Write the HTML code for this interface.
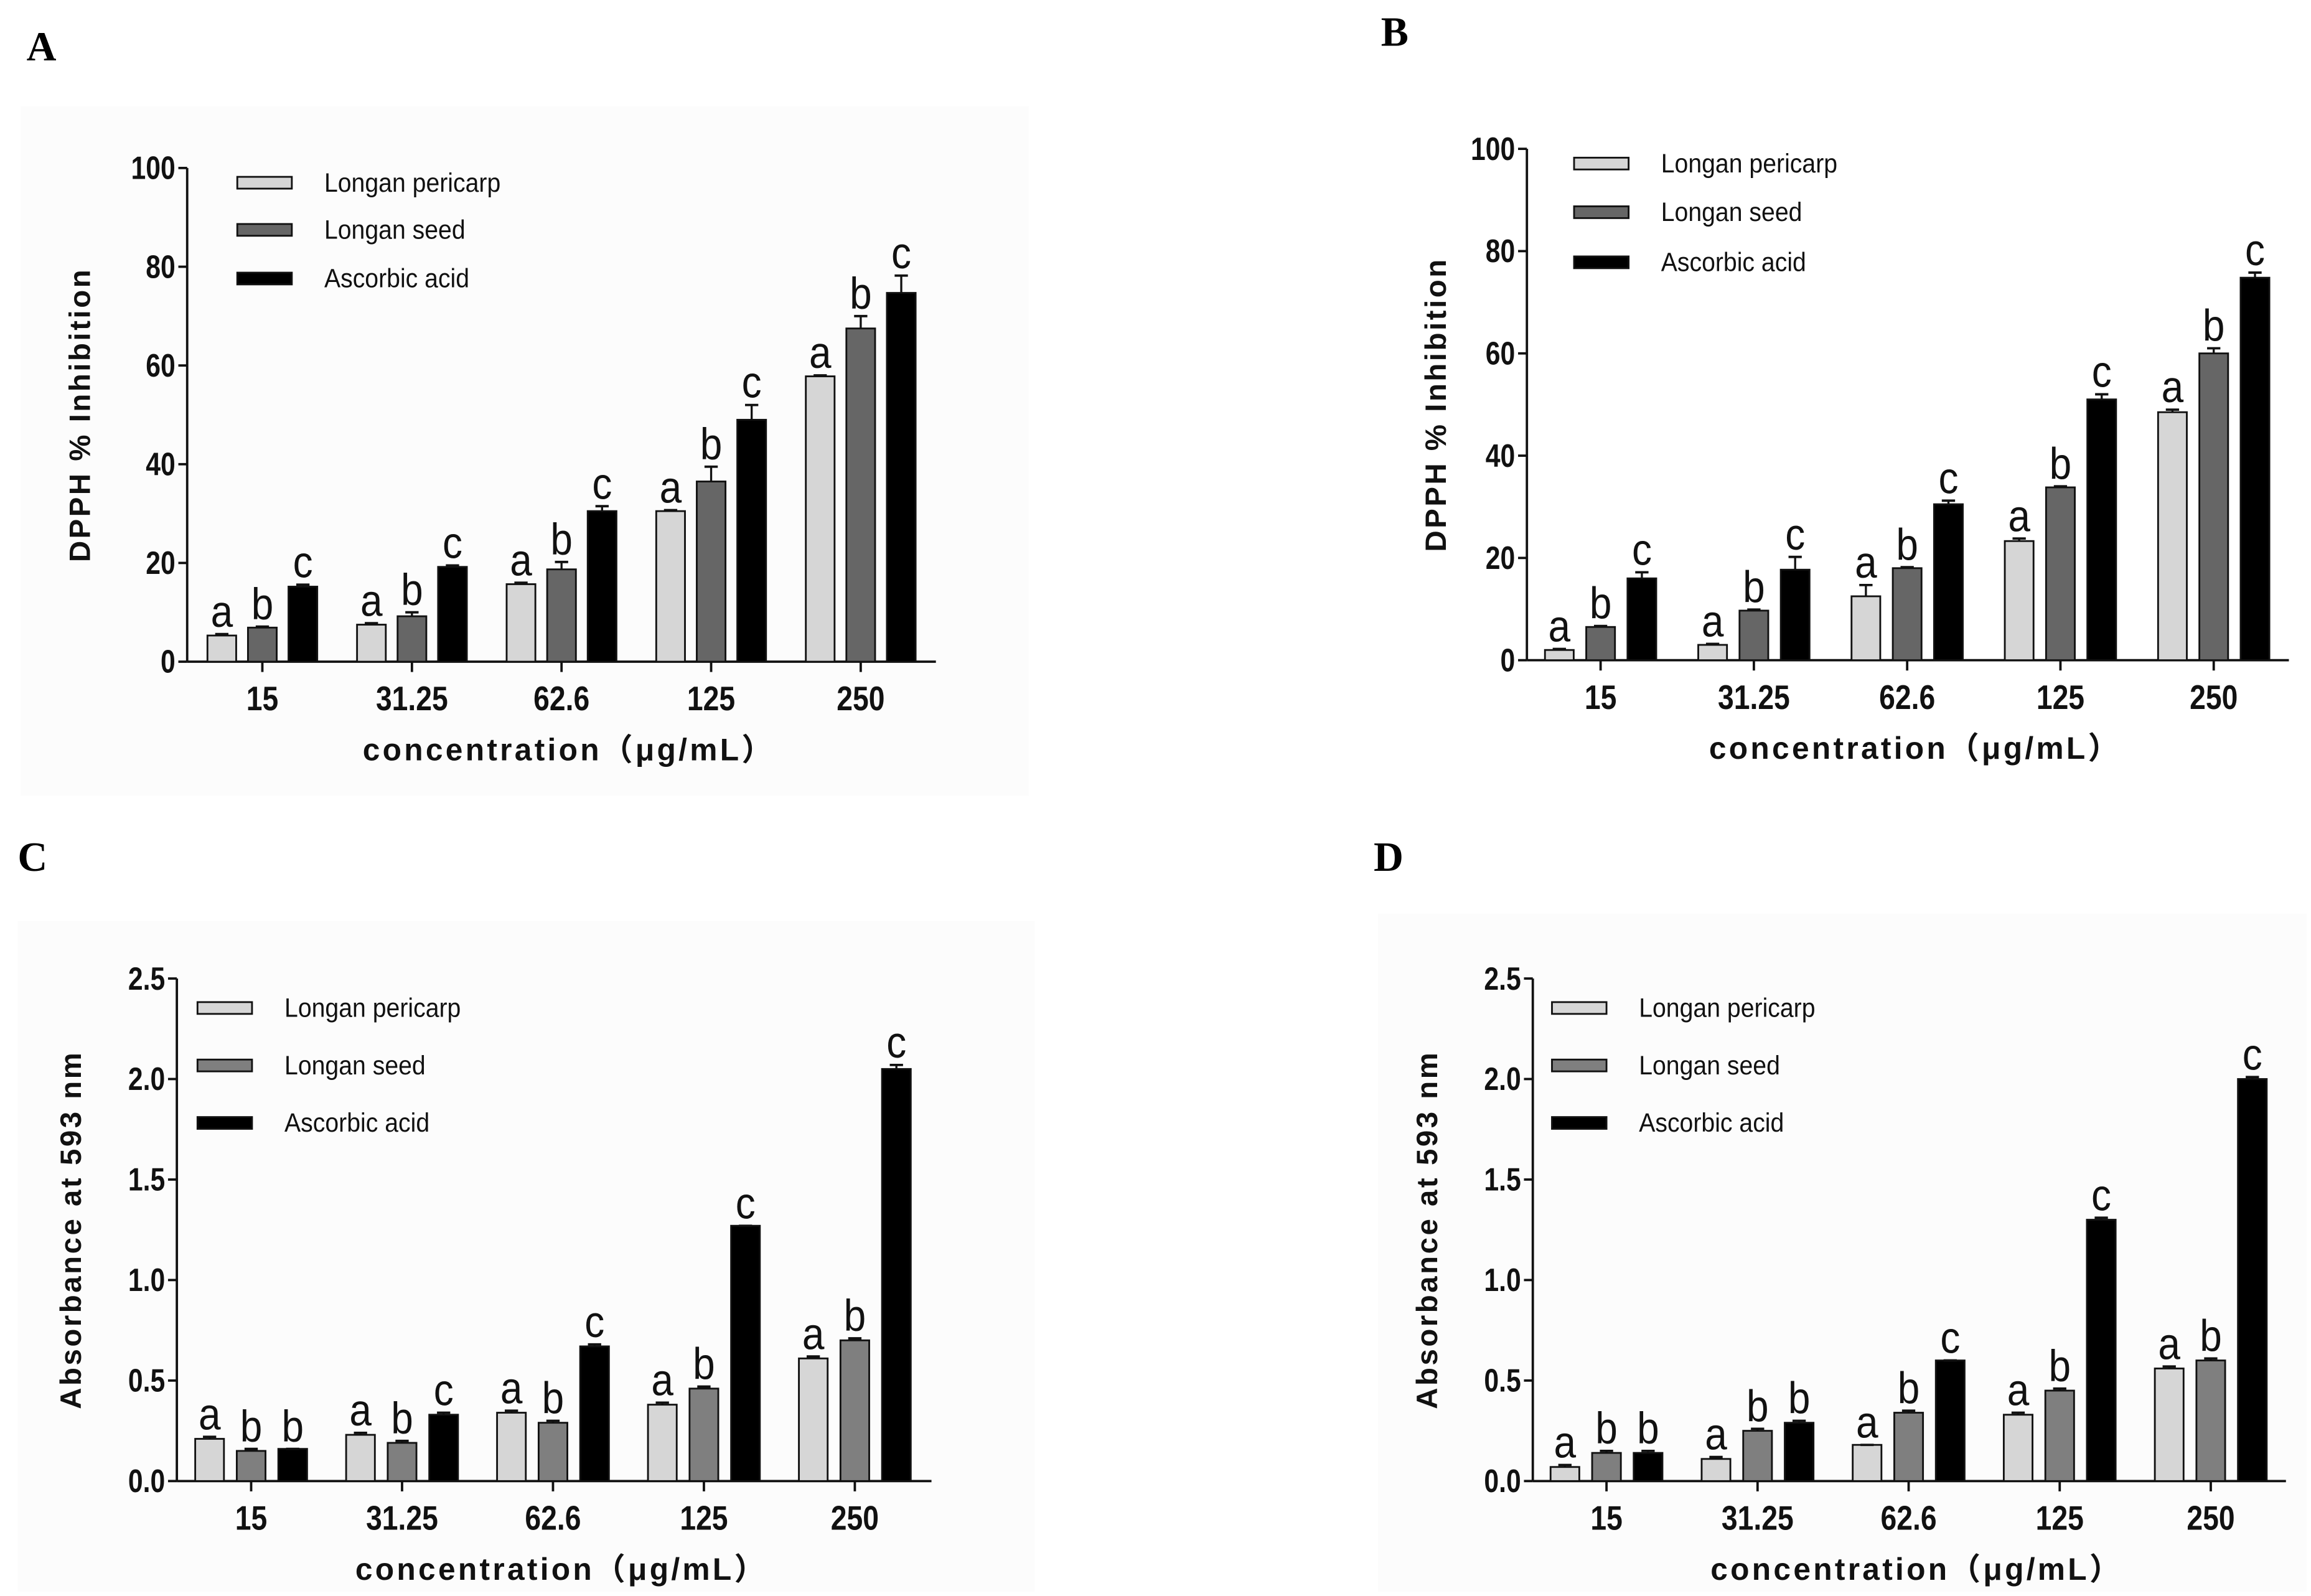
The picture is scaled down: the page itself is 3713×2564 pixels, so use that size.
<!DOCTYPE html>
<html><head><meta charset="utf-8"><style>
html,body{margin:0;padding:0;background:#fff;}
svg{display:block;}
</style></head><body>
<svg id="fig" width="3713" height="2564" viewBox="0 0 1568 1083" preserveAspectRatio="none" xmlns="http://www.w3.org/2000/svg" font-family="Liberation Sans, Arial, sans-serif">
<rect x="0" y="0" width="1568" height="1083" fill="#fff"/>
<rect x="14" y="72" width="684" height="468" fill="#fcfcfc"/>
<rect x="12" y="625" width="690" height="455" fill="#fcfcfc"/>
<rect x="935" y="620" width="630" height="460" fill="#fcfcfc"/>
<g id="root"></g>
</svg>
<script>
const categories = ["15","31.25","62.6","125","250"];
const seriesNames = ["Longan pericarp","Longan seed","Ascorbic acid"];
const dpphTicks = [0,20,40,60,80,100];
const fraTicks = [0.0,0.5,1.0,1.5,2.0,2.5];
const fraTickLabels = ["0.0","0.5","1.0","1.5","2.0","2.5"];

const aPericarp = [5.3,7.5,15.7,30.5,57.8];
const aSeed = [6.9,9.2,18.7,36.5,67.5];
const aAscorbic = [15.2,19.2,30.5,49.0,74.7];
const aPericarpErr = [0.3,0.3,0.3,0.2,0.2];
const aSeedErr = [0.2,0.8,1.5,3.0,2.5];
const aAscorbicErr = [0.4,0.3,1.0,3.0,3.5];
const aLetters = [["a","b","c"],["a","b","c"],["a","b","c"],["a","b","c"],["a","b","c"]];

const bPericarp = [2.0,3.0,12.5,23.3,48.5];
const bSeed = [6.5,9.7,18.0,33.8,60.0];
const bAscorbic = [16.0,17.7,30.5,51.0,74.8];
const bPericarpErr = [0.2,0.2,2.2,0.5,0.5];
const bSeedErr = [0.2,0.2,0.2,0.2,1.0];
const bAscorbicErr = [1.2,2.5,0.7,1.0,1.0];
const bLetters = [["a","b","c"],["a","b","c"],["a","b","c"],["a","b","c"],["a","b","c"]];

const cPericarp = [0.21,0.23,0.34,0.38,0.61];
const cSeed = [0.15,0.19,0.29,0.46,0.70];
const cAscorbic = [0.16,0.33,0.67,1.27,2.05];
const cPericarpErr = [0.01,0.01,0.01,0.01,0.01];
const cSeedErr = [0.01,0.01,0.01,0.01,0.01];
const cAscorbicErr = [0.0,0.01,0.01,0.0,0.02];
const cLetters = [["a","b","b"],["a","b","c"],["a","b","c"],["a","b","c"],["a","b","c"]];

const dPericarp = [0.07,0.11,0.18,0.33,0.56];
const dSeed = [0.14,0.25,0.34,0.45,0.60];
const dAscorbic = [0.14,0.29,0.60,1.30,2.00];
const dPericarpErr = [0.01,0.01,0.0,0.01,0.01];
const dSeedErr = [0.01,0.01,0.01,0.01,0.01];
const dAscorbicErr = [0.01,0.01,0.0,0.01,0.01];
const dLetters = [["a","b","b"],["a","b","b"],["a","b","c"],["a","b","c"],["a","b","c"]];

const NS = "http://www.w3.org/2000/svg";
const root = document.getElementById("root");
function mk(tag, attrs, parent){
  const e = document.createElementNS(NS, tag);
  for (const k in attrs) e.setAttribute(k, attrs[k]);
  (parent||root).appendChild(e);
  return e;
}

function panel(cfg){
  const g = mk("g", {});
  
  
  const yScale = v => cfg.yBot - (v - cfg.yMin) / (cfg.yMax - cfg.yMin) * (cfg.yBot - cfg.yTop);
  const xScale = i => cfg.tick0 + i * cfg.sp;
  const L = mk("text", {x:cfg.letterX, y:cfg.letterY, "font-size":28, "font-weight":"bold", "font-family":"Liberation Serif, serif"}, g);
  L.textContent = cfg.id.toUpperCase();
  
  
  const ya = mk("line", {x1:cfg.ax, x2:cfg.ax, y1:cfg.yTop, y2:cfg.yBot, stroke:"#111", "stroke-width":1.6}, g);
  
  
  const xa = mk("line", {x1:cfg.ax, x2:cfg.xEnd, y1:cfg.yBot, y2:cfg.yBot, stroke:"#111", "stroke-width":1.6}, g);
  
  
  cfg.ticks.forEach((t, i) => {
    const y = yScale(t);
    mk("line", {x1:cfg.ax-6, x2:cfg.ax, y1:y, y2:y, stroke:"#111", "stroke-width":1.6}, g);
    const tx = mk("text", {x:cfg.ax-8, y:y+7.5, "text-anchor":"end", "font-size":22, "font-weight":"bold", fill:"#111", transform:"scale(0.82,1)", "transform-origin":(cfg.ax-8)+" "+y}, g);
    tx.textContent = cfg.tickLabels[i];
    
    
  });
  categories.forEach((c, i) => {
    const x = xScale(i);
    mk("line", {x1:x, x2:x, y1:cfg.yBot, y2:cfg.yBot+7, stroke:"#111", "stroke-width":1.6}, g);
    const tx = mk("text", {x:x, y:cfg.yBot+33, "text-anchor":"middle", "font-size":23, "font-weight":"bold", fill:"#111", transform:"scale(0.85,1)", "transform-origin":x+" "+cfg.yBot}, g);
    tx.textContent = c;
    
    
  });
  const xt = mk("text", {x:(cfg.ax+cfg.xEnd)/2 + 5, y:cfg.yBot+67, "text-anchor":"middle", "font-size":21, "font-weight":"bold", "letter-spacing":"1.8", fill:"#111", "font-family":"Liberation Sans, Noto Sans CJK SC, sans-serif"}, g);
  xt.textContent = "concentration（μg/mL）";
  
  
  const yc = (cfg.yTop + cfg.yBot)/2;
  const yt = mk("text", {x:cfg.ylabX, y:yc, "text-anchor":"middle", "font-size":20, "font-weight":"bold", "letter-spacing":"1.5", fill:"#111", transform:"rotate(-90 "+cfg.ylabX+" "+yc+")"}, g);
  yt.textContent = cfg.yTitle;
  
  
  const fills = ["#d6d6d6", cfg.seedFill, "#000"];
  cfg.series.forEach((vals, s) => {
    vals.forEach((v, i) => {
      const cx = xScale(i) + (s-1)*cfg.off;
      const y = yScale(v);
      const r = mk("rect", {x:cx-cfg.bw/2, y:y, width:cfg.bw, height:cfg.yBot-y, fill:fills[s], stroke:"#111", "stroke-width":1.2}, g);
      
      
      const e = cfg.errs[s][i];
      const ye = yScale(v + e);
      mk("line", {x1:cx, x2:cx, y1:ye, y2:y, stroke:"#111", "stroke-width":1.4}, g);
      mk("line", {x1:cx-4.5, x2:cx+4.5, y1:ye, y2:ye, stroke:"#111", "stroke-width":1.6}, g);
      const lt = mk("text", {x:cx, y:ye-5, "text-anchor":"middle", "font-size":30, fill:"#111", transform:"scale(0.9,1)", "transform-origin":cx+" "+ye}, g);
      lt.textContent = cfg.letters[i][s];
      
      
    });
  });
  seriesNames.forEach((n, s) => {
    const y = cfg.legY[s];
    const sw = mk("rect", {x:cfg.legX, y:y-4, width:37, height:8, fill:fills[s], stroke:"#111", "stroke-width":1.2}, g);
    
    
    const lt = mk("text", {x:cfg.legX+59, y:y+6, "font-size":18, fill:"#111", transform:"scale(0.92,1)", "transform-origin":(cfg.legX+59)+" "+y}, g);
    lt.textContent = n;
    
    
  });
}

panel({id:"a", ax:127, xEnd:635, yTop:114, yBot:449, yMin:0, yMax:100, tick0:178, sp:101.5, off:27.5, bw:19.5,
  ticks:dpphTicks, tickLabels:dpphTicks.map(String), yTitle:"DPPH % Inhibition", ylabX:61,
  series:[aPericarp,aSeed,aAscorbic], errs:[aPericarpErr,aSeedErr,aAscorbicErr], letters:aLetters,
  seedFill:"#666", legX:161, legY:[124,156,189], letterX:18, letterY:41});
panel({id:"b", ax:1036, xEnd:1553, yTop:101, yBot:448, yMin:0, yMax:100, tick0:1086, sp:104, off:28, bw:19.5,
  ticks:dpphTicks, tickLabels:dpphTicks.map(String), yTitle:"DPPH % Inhibition", ylabX:981,
  series:[bPericarp,bSeed,bAscorbic], errs:[bPericarpErr,bSeedErr,bAscorbicErr], letters:bLetters,
  seedFill:"#666", legX:1068, legY:[111,144,178], letterX:937, letterY:31});
panel({id:"c", ax:120, xEnd:632, yTop:664, yBot:1005, yMin:0, yMax:2.5, tick0:170.4, sp:102.4, off:28.2, bw:19.5,
  ticks:fraTicks, tickLabels:fraTickLabels, yTitle:"Absorbance at 593 nm", ylabX:55,
  series:[cPericarp,cSeed,cAscorbic], errs:[cPericarpErr,cSeedErr,cAscorbicErr], letters:cLetters,
  seedFill:"#7f7f7f", legX:134, legY:[684,723,762], letterX:12, letterY:591});
panel({id:"d", ax:1040, xEnd:1551, yTop:664, yBot:1005, yMin:0, yMax:2.5, tick0:1090, sp:102.5, off:28.2, bw:19.5,
  ticks:fraTicks, tickLabels:fraTickLabels, yTitle:"Absorbance at 593 nm", ylabX:975,
  series:[dPericarp,dSeed,dAscorbic], errs:[dPericarpErr,dSeedErr,dAscorbicErr], letters:dLetters,
  seedFill:"#7f7f7f", legX:1053, legY:[684,723,762], letterX:932, letterY:591});
</script>
</body></html>
